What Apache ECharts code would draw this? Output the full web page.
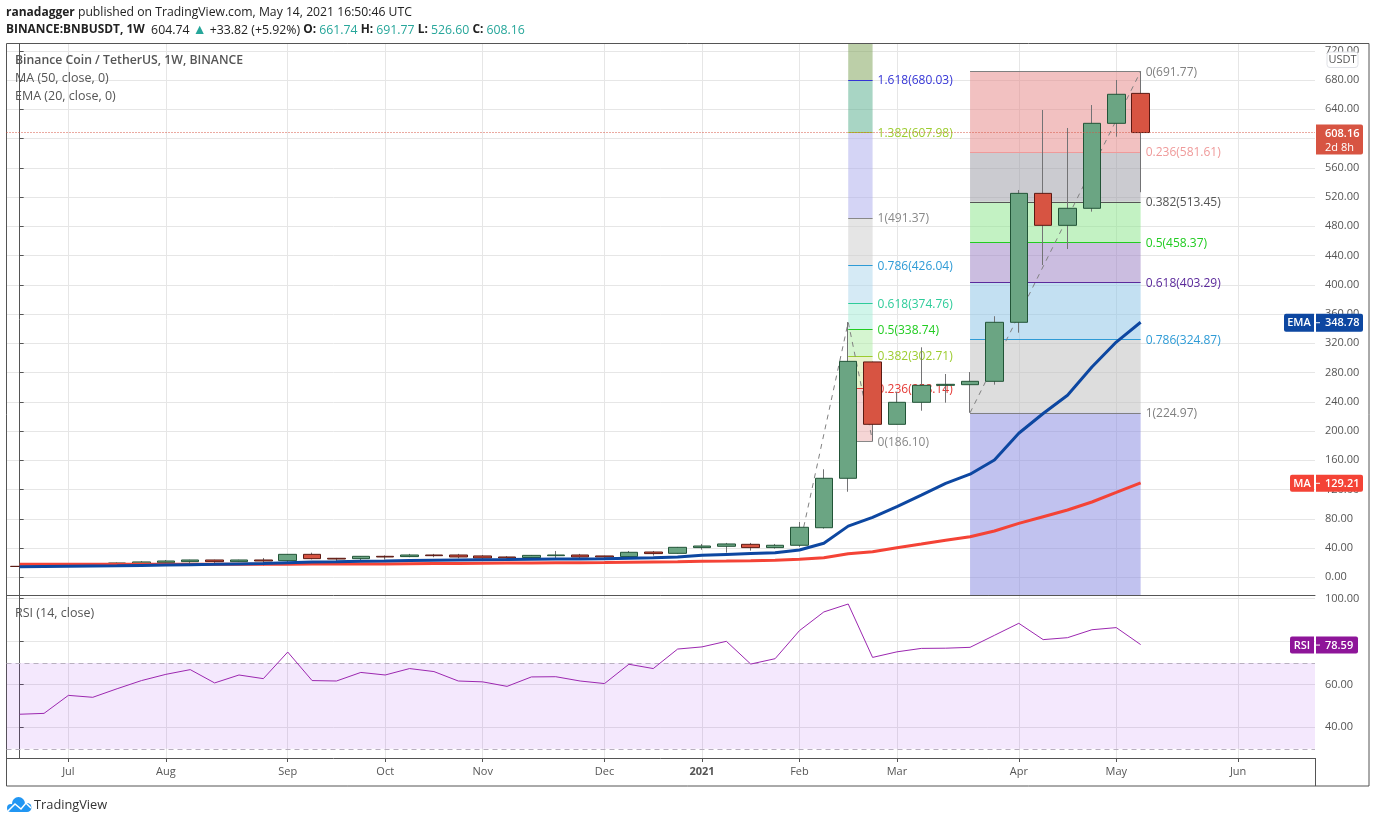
<!DOCTYPE html>
<html>
<head>
<meta charset="utf-8">
<style>html,body{margin:0;padding:0;background:#fff}#chart{width:1376px;height:823px}</style>
<script src="https://cdn.jsdelivr.net/npm/echarts@6/dist/echarts.min.js"></script>
</head>
<body>
<div id="chart"></div>
<script>
// ---- data ----
const opens  = [15,14.6,15,17.8,17.3,18.7,20,21.4,23.7,21.4,23.7,22.8,31.4,26,25.5,28.7,28.3,30.5,30.5,29.2,27.8,27,29.6,30.5,29.2,28.3,34.6,32.8,40.6,42.4,45.1,40.6,43.8,67.8,135.4,294.5,209.2,239.3,262.5,263.4,268,348.7,525,481.3,504.6,620.8,661.74];
const closes = [14.8,15,17.8,17.2,19.6,21,22.3,23.7,21.4,23.7,22.3,31.4,25.5,25,28.7,27.8,30.5,29.6,27.8,26.4,26.4,30,30.5,27.8,27.8,34.2,32.4,41,42.8,45.6,40.6,43.8,68.4,135.4,295.3,209.2,239.3,262.5,263.9,268,348.7,525,481.3,504.6,620.8,660.5,608.16];
const lows   = [14.5,14.3,14.8,16.8,16.5,17,19.5,19.2,19.5,21,16,20.5,24.5,20.5,22.8,24,27.5,27.5,26,24.5,25.5,26,25,26.5,24.5,27.8,29.7,32.4,37.8,33.7,36.5,39.2,42,66.5,117,186.1,209.2,227.8,238.8,225,263.4,334.5,427,448.9,500,602.5,526.6];
const highs  = [15.4,15.4,18.2,19.5,20.3,22.3,23.7,24,24,24,26.4,31.8,33.7,26.5,29,30,32,32,32,30.5,29,30.5,36,32,29.5,36,36,41.5,45.6,47,47,45.6,75.6,147.7,349,295,253.8,314.5,278,280.7,357,529.6,639,614.4,645.8,680,691.77];
const emaValues = [14.5,14.8,15.1,15.4,15.7,16.2,16.7,17.2,17.7,18.3,18.8,19.8,20.8,21.2,21.8,22.3,22.9,23.4,23.8,24.1,24.3,24.6,24.9,25.1,25.3,26,26.6,27.7,30,31.2,32.4,33.5,37.3,46.5,70,82,96.6,112.5,128.5,141,160.4,197,224,249,287.5,321.7,348.78];
const maValues  = [17.8,17.8,17.8,17.8,17.8,17.8,17.9,17.9,17.9,18,18,18,18.1,18.1,18.2,18.2,18.5,18.8,19,19.2,19.4,19.6,19.8,20,20.2,20.6,21,21.4,21.9,22.3,22.8,23.4,24.6,26.8,32.3,35,40.5,45.5,50.6,55.5,63.3,73.8,82.9,92,103,116,129.21];
const rsiValues = [46.1,46.5,54.9,54,58,61.8,64.7,66.9,60.7,64.4,62.7,75.1,61.8,61.6,65.6,64.4,67.4,66,61.6,61.2,59.1,63.5,63.6,61.6,60.4,69.4,67.4,76.5,77.5,80.1,69.5,72,85.1,93.8,97.5,72.6,75.2,76.8,76.9,77.3,82.9,88.5,80.9,81.8,85.5,86.5,78.59];

const monthTickWeeks = [2,6,11,15,19,24,28,32,36,41,45,50];
const monthTickNames = ['Jul','Aug','Sep','Oct','Nov','Dec','2021','Feb','Mar','Apr','May','Jun'];
const priceTicks = [0,40,80,120,160,200,240,280,320,360,400,440,480,520,560,600,640,680,720];
const rsiTicks = [40,60,80,100];

const fibLeftValues = [186.10,258.14,302.71,338.74,374.76,426.04,491.37,607.98,680.03];
const fibLeftRatios = ['0','0.236','0.382','0.5','0.618','0.786','1','1.382','1.618'];
const fibLeftLine   = ['#888888','#e53935','#9ccc2e','#22cc22','#2ecc9a','#2e9bd6','#888888','#9ccc2e','#3535d6'];
const fibLeftZones  = ['rgba(235,171,171,.5)','rgba(209,231,155,.5)','rgba(171,235,161,.5)','rgba(161,235,213,.5)','rgba(171,213,235,.5)','rgba(203,203,203,.5)','rgba(169,169,235,.5)','rgba(81,171,137,.5)','rgba(121,159,81,.5)'];
const fibLeftWeeks  = [34,35];

const fibRightValues = [691.77,581.61,513.45,458.37,403.29,324.87,224.97];
const fibRightRatios = ['0','0.236','0.382','0.5','0.618','0.786','1'];
const fibRightLine   = ['#808080','#ef9a9a','#555555','#22cc22','#5b2a9b','#2e9bd6','#808080'];
const fibRightZones  = ['rgba(229,131,131,.5)','rgba(151,151,161,.5)','rgba(135,229,135,.5)','rgba(151,123,193,.5)','rgba(135,193,229,.5)','rgba(187,187,187,.5)','rgba(131,133,223,.5)'];
const fibRightWeeks  = [39,46];

const trendLeft  = [[32,42],[34,349],[35,186.1]];
const trendRight = [[39,224.97],[46,691.77]];

const lastPrice = 608.16;
const priceMin = -24.2, priceMax = 729.26;
const rsiMin = 25.7, rsiMax = 101.7;
const weekMin = -0.54, weekMax = 53.155;

// ---- styles ----
const FONT = '"Open Sans", "Noto Sans", sans-serif';
const TXT = '#555555', GRID = '#e6e6e6', AXIS = '#555555';

const candleRows = opens.map((o,i)=>[i,o,closes[i],lows[i],highs[i]]);
const bodyRows   = opens.map((o,i)=>[i,o,closes[i],Math.min(o,closes[i]),Math.max(o,closes[i])]);
const pairs = arr => arr.map((v,i)=>[i,v]);

function fibParts(values, ratios, lineCols, zones, weeks, zoneTops){
  const areas = values.map((v,i)=>[
    {xAxis:weeks[0], yAxis:v, itemStyle:{color:zones[i]}},
    {xAxis:weeks[1], yAxis:zoneTops[i]}
  ]);
  const lines = values.map((v,i)=>[
    {xAxis:weeks[0], yAxis:v, lineStyle:{color:lineCols[i],width:1,type:'solid'},
      label:{show:true,position:'end',distance:5,offset:[0,1],color:lineCols[i],fontFamily:FONT,fontSize:12,
             formatter:ratios[i]+'('+v.toFixed(2)+')'}},
    {xAxis:weeks[1], yAxis:v}
  ]);
  return {areas,lines};
}
const leftTops  = fibLeftValues.map((v,i)=> i<fibLeftValues.length-1 ? fibLeftValues[i+1] : priceMax);
const rightTops = fibRightValues.map((v,i)=> i<fibRightValues.length-1 ? fibRightValues[i+1] : priceMin);
const fL = fibParts(fibLeftValues,fibLeftRatios,fibLeftLine,fibLeftZones,fibLeftWeeks,leftTops);
const fR = fibParts(fibRightValues,fibRightRatios,fibRightLine,fibRightZones,fibRightWeeks,rightTops);

function trendSeries(name,data,f){
  return {
    name,type:'line',data,xAxisIndex:0,yAxisIndex:0,z:1,symbol:'none',silent:true,
    lineStyle:{color:'#808080',width:1,type:[5,5]},
    markArea:{silent:true,z:1,data:f.areas},
    markLine:{silent:true,z:1,symbol:'none',data:f.lines}
  };
}

const xAxisCommon = {
  type:'value',min:weekMin,max:weekMax,
  splitLine:{show:true,lineStyle:{color:GRID,width:1}},
  axisLine:{show:true,onZero:false,lineStyle:{color:AXIS,width:1}},
  axisTick:{show:false,customValues:monthTickWeeks},
  axisLabel:{show:false,customValues:monthTickWeeks}
};

const yLabel = ticks => ({customValues:ticks,color:TXT,fontFamily:FONT,fontSize:11,margin:10,padding:[4,0,0,0],formatter:v=>v.toFixed(2)});

const option = {
  animation:false,
  backgroundColor:'#ffffff',
  grid:[
    {left:6.5,top:44,width:1308.5,height:551},
    {left:6.5,top:595,width:1308.5,height:163}
  ],
  xAxis:[
    Object.assign({},xAxisCommon,{gridIndex:0}),
    Object.assign({},xAxisCommon,{gridIndex:1,
      axisTick:{show:true,length:4,customValues:monthTickWeeks,lineStyle:{color:AXIS}},
      axisLabel:{show:true,customValues:monthTickWeeks,color:TXT,fontFamily:FONT,fontSize:11,margin:8,
        formatter:v=>{const n=monthTickNames[monthTickWeeks.indexOf(v)];return n==='2021'?'{b|'+n+'}':n;},
        rich:{b:{fontWeight:'bold',color:TXT,fontFamily:FONT,fontSize:11}}}
    })
  ],
  yAxis:[
    {type:'value',gridIndex:0,position:'right',min:priceMin,max:priceMax,
     splitLine:{show:true,lineStyle:{color:GRID,width:1}},
     axisLine:{show:true,lineStyle:{color:AXIS}},
     axisTick:{show:true,length:4,customValues:priceTicks,lineStyle:{color:AXIS}},
     axisLabel:yLabel(priceTicks)},
    {type:'value',gridIndex:1,position:'right',min:rsiMin,max:rsiMax,
     splitLine:{show:true,lineStyle:{color:GRID,width:1}},
     axisLine:{show:true,lineStyle:{color:AXIS}},
     axisTick:{show:true,length:4,customValues:rsiTicks,lineStyle:{color:AXIS}},
     axisLabel:yLabel(rsiTicks)}
  ],
  series:[
    trendSeries('Fib A',trendLeft,fL),
    trendSeries('Fib B',trendRight,fR),
    {name:'BNBUSDT wicks',type:'candlestick',xAxisIndex:0,yAxisIndex:0,data:candleRows,barWidth:1,z:3,silent:true,
     itemStyle:{color:'#737375',color0:'#737375',borderColor:'#737375',borderColor0:'#737375',borderWidth:1}},
    {name:'BNBUSDT',type:'candlestick',xAxisIndex:0,yAxisIndex:0,data:bodyRows,barWidth:18,z:4,silent:true,
     itemStyle:{color:'#6ba583',color0:'#d75442',borderColor:'#225437',borderColor0:'#5b1a13',borderWidth:1},
     markLine:{silent:true,z:6,symbol:'none',label:{show:false},
       lineStyle:{color:'#d75442',width:1,type:[1,2]},data:[{yAxis:lastPrice}]}},
    {name:'MA (50, close, 0)',type:'line',xAxisIndex:0,yAxisIndex:0,data:pairs(maValues),symbol:'none',z:5,silent:true,
     lineStyle:{color:'#f44336',width:3}},
    {name:'EMA (20, close, 0)',type:'line',xAxisIndex:0,yAxisIndex:0,data:pairs(emaValues),symbol:'none',z:5,silent:true,
     lineStyle:{color:'#0d47a1',width:3}},
    {name:'RSI (14, close)',type:'line',xAxisIndex:1,yAxisIndex:1,data:pairs(rsiValues),symbol:'none',z:5,silent:true,
     lineStyle:{color:'#9c27b0',width:1},
     markArea:{silent:true,z:1,itemStyle:{color:'rgba(135,0,235,.09)'},data:[[{yAxis:30},{yAxis:70}]]},
     markLine:{silent:true,z:2,symbol:'none',label:{show:false},
       lineStyle:{color:'#b8b0bf',width:1,type:[5,4]},data:[{yAxis:70},{yAxis:30}]}}
  ]
};

const chart = echarts.init(document.getElementById('chart'));
chart.setOption(option);

// ---- annotations: header, legend, axis tags, logo ----
function txt(x,y,text,extra){
  return {type:'text',z:50,silent:true,style:Object.assign({x,y,text,fill:TXT,fontFamily:FONT,fontSize:12.3,verticalAlign:'middle'},extra||{})};
}
const DARK = '#222222', TEAL='#26a69a';
const g = [];
g.push({type:'rect',z:0,silent:true,shape:{x:6.5,y:43.5,width:1362.5,height:742.5},style:{fill:'none',stroke:AXIS,lineWidth:1}});
g.push({type:'line',z:0,silent:true,shape:{x1:1315.5,y1:758,x2:1315.5,y2:786},style:{stroke:AXIS,lineWidth:1}});
g.push(txt(6,13,'{b|ranadagger} published on TradingView.com, May 14, 2021 16:50:46 UTC',{
  fill:DARK,fontSize:12.2,rich:{b:{fontWeight:'bold',fill:DARK,fontFamily:FONT,fontSize:12}}}));
g.push(txt(6,30,'{b|BINANCE:BNBUSDT, 1W}  604.74 {a|▲} +33.82 (+5.92%) {p|O:}{t|661.74} {p|H:}{t|691.77} {p|L:}{t|526.60} {p|C:}{t|608.16}',{
  fill:DARK,rich:{
    b:{fontWeight:'bold',fill:DARK,fontFamily:FONT,fontSize:11.9},
    p:{fontWeight:'bold',fill:DARK,fontFamily:FONT,fontSize:11.9,padding:[0,3,0,0]},
    a:{fill:TEAL,fontFamily:FONT,fontSize:14},
    t:{fill:TEAL,fontFamily:FONT,fontSize:12.3}}}));
g.push(txt(15,61,'Binance Coin / TetherUS, 1W, BINANCE',{fontWeight:'600',fontSize:12.25}));
g.push(txt(15,78,'MA (50, close, 0)',{fontSize:12.5}));
g.push(txt(15,96,'EMA (20, close, 0)',{fontSize:12.5}));
g.push(txt(15,613,'RSI (14, close)',{fontSize:12.5}));
g.push(txt(34,805,'TradingView',{fill:'#333333',fontSize:12.8}));

// logo built from simple shapes
[[11,808,4],[18.5,803.5,6.5],[27,807.5,4.5]].forEach(c=>g.push({type:'circle',z:50,silent:true,shape:{cx:c[0],cy:c[1],r:c[2]},style:{fill:'#2196f3'}}));
g.push({type:'rect',z:50,silent:true,shape:{x:11,y:805,width:16,height:7},style:{fill:'#2196f3'}});
g.push({type:'polyline',z:51,silent:true,shape:{points:[[8,811],[15,804],[21,809],[26,803],[31,808]]},style:{stroke:'#ffffff',fill:'none',lineWidth:1.5}});

// USDT badge
g.push({type:'rect',z:40,silent:true,shape:{x:1327,y:52,width:31,height:15.5,r:3},style:{fill:'#ffffff',stroke:'#dfe1e6',lineWidth:1}});
g.push(txt(1342.5,60,'USDT',{align:'center',fontSize:11}));

function tag(value,axisIndex,label,text,color,rightEdge,h){
  const y = chart.convertToPixel({yAxisIndex:axisIndex},value)+0.5;
  const top = y-h/2;
  g.push({type:'rect',z:40,silent:true,shape:{x:1316,y:top,width:rightEdge-1316,height:h,r:[0,2,2,0]},style:{fill:color}});
  g.push(txt(1325,y+0.5,text,{fill:'#fff',fontSize:11,fontWeight:'600'}));
  g.push({type:'line',z:41,silent:true,shape:{x1:1316,y1:y,x2:1320,y2:y},style:{stroke:'#fff',lineWidth:1}});
  if(label){
    const w = label==='EMA'?31:25;
    g.push({type:'rect',z:40,silent:true,shape:{x:1315-w,y:top,width:w-1,height:h,r:[2,0,0,2]},style:{fill:color}});
    g.push(txt(1315-1-(w-1)/2,y+0.5,label,{fill:'#fff',fontSize:11,fontWeight:'600',align:'center'}));
  }
}
tag(emaValues[emaValues.length-1],0,'EMA','348.78','#0d47a1',1363,18);
tag(maValues[maValues.length-1],0,'MA','129.21','#f44336',1363,17);
tag(rsiValues[rsiValues.length-1],1,'RSI','78.59','#8e1599',1358,17);

// last price tag
const py = chart.convertToPixel({yAxisIndex:0},lastPrice);
g.push({type:'rect',z:40,silent:true,shape:{x:1316,y:py-8,width:47,height:30,r:[0,2,2,0]},style:{fill:'#d75442'}});
g.push(txt(1325,py+1.5,'608.16',{fill:'#fff',fontSize:11,fontWeight:'600'}));
g.push(txt(1325,py+15,'2d 8h',{fill:'#fff',fontSize:11}));

chart.setOption({graphic:{elements:g}});
</script>
</body>
</html>
